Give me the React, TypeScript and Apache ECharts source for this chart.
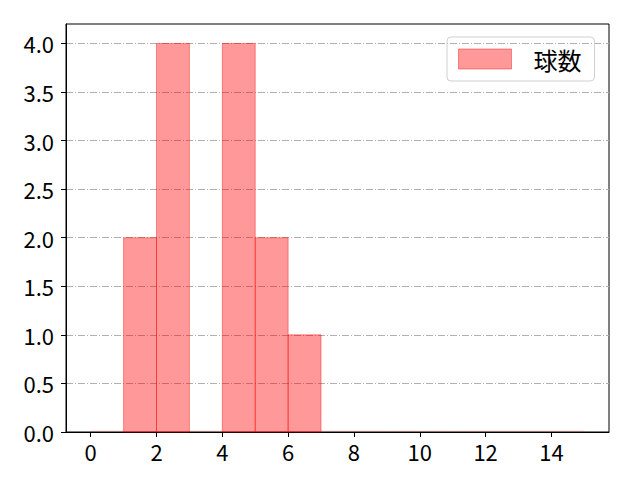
import React, { useEffect, useRef } from "react";
import * as echarts from "echarts";

const binStarts = [0, 1, 2, 3, 4, 5, 6, 7, 8, 9, 10, 11, 12, 13, 14];
const binWidth = 1;
const counts = [0, 2, 4, 0, 4, 2, 1, 0, 0, 0, 0, 0, 0, 0, 0];
const xTicks = [0, 2, 4, 6, 8, 10, 12, 14];
const yTicks = [0, 0.5, 1, 1.5, 2, 2.5, 3, 3.5, 4];
const seriesName = "球数";

const FONT = "'Noto Sans CJK JP', 'Noto Sans', sans-serif";

export default function App() {
  const ref = useRef<HTMLDivElement>(null);
  useEffect(() => {
    if (!ref.current) return;
    const chart = echarts.init(ref.current, null, { renderer: "svg" });
    const data = binStarts.map((s, i) => [s, s + binWidth, counts[i]]);
    chart.setOption({
      animation: false,
      grid: {
        left: 66,
        right: 31,
        top: 24,
        bottom: 48,
        show: true,
        borderColor: "#000",
        borderWidth: 1,
        backgroundColor: "transparent",
      },
      legend: {
        show: true,
        left: 447,
        top: 37,
        orient: "vertical",
        padding: [10, 13, 10, 11],
        borderColor: "#d0d0d0",
        borderWidth: 1,
        borderRadius: 4,
        itemWidth: 53,
        itemHeight: 20,
        textStyle: {
          fontFamily: FONT,
          fontSize: 24,
          color: "#000",
          padding: [0, 0, 0, 17],
        },
        data: [
          {
            name: seriesName,
            icon: "rect",
            itemStyle: {
              color: "rgba(255,0,0,0.4)",
              borderColor: "rgba(255,0,0,0.4)",
              borderWidth: 1,
            },
          },
        ],
      },
      xAxis: {
        type: "value",
        min: -0.75,
        max: 15.75,
        axisLine: { show: true, onZero: false, lineStyle: { color: "#000", width: 1 } },
        axisTick: {
          show: true,
          customValues: xTicks,
          length: 5,
          inside: false,
          lineStyle: { color: "#000" },
        },
        axisLabel: {
          customValues: xTicks,
          fontFamily: FONT,
          fontSize: 22,
          color: "#000",
          margin: 8,
          formatter: (v: number) => String(v),
        },
        splitLine: { show: false },
      },
      yAxis: {
        type: "value",
        min: 0,
        max: 4.2,
        interval: 0.5,
        axisLine: { show: true, onZero: false, lineStyle: { color: "#000", width: 1 } },
        axisTick: {
          show: true,
          customValues: yTicks,
          length: 5,
          lineStyle: { color: "#000" },
        },
        axisLabel: {
          customValues: yTicks,
          fontFamily: FONT,
          fontSize: 22,
          color: "#000",
          margin: 12,
          formatter: (v: number) => v.toFixed(1),
        },
        splitLine: {
          show: true,
          lineStyle: { color: "#b0b0b0", width: 1, type: [7, 2, 1, 2] },
        },
      },
      series: [
        {
          name: seriesName,
          type: "custom",
          data,
          encode: { x: [0, 1], y: 2 },
          renderItem: (params: any, api: any) => {
            const x0 = api.value(0);
            const x1 = api.value(1);
            const h = api.value(2);
            const p0 = api.coord([x0, 0]);
            const p1 = api.coord([x1, h]);
            if (h === 0) {
              return {
                type: "line",
                shape: { x1: p0[0], y1: p0[1] - 1, x2: p1[0], y2: p0[1] - 1 },
                style: { stroke: "rgba(255,0,0,0.15)", lineWidth: 1 },
              };
            }
            return {
              type: "rect",
              shape: {
                x: p0[0],
                y: p1[1],
                width: p1[0] - p0[0],
                height: p0[1] - p1[1],
              },
              style: {
                fill: "rgba(255,0,0,0.4)",
                stroke: "rgba(255,0,0,0.4)",
                lineWidth: 1,
              },
            };
          },
        },
      ],
    });
    return () => chart.dispose();
  }, []);
  return <div ref={ref} style={{ width: 640, height: 480, margin: -8 }} />;
}
